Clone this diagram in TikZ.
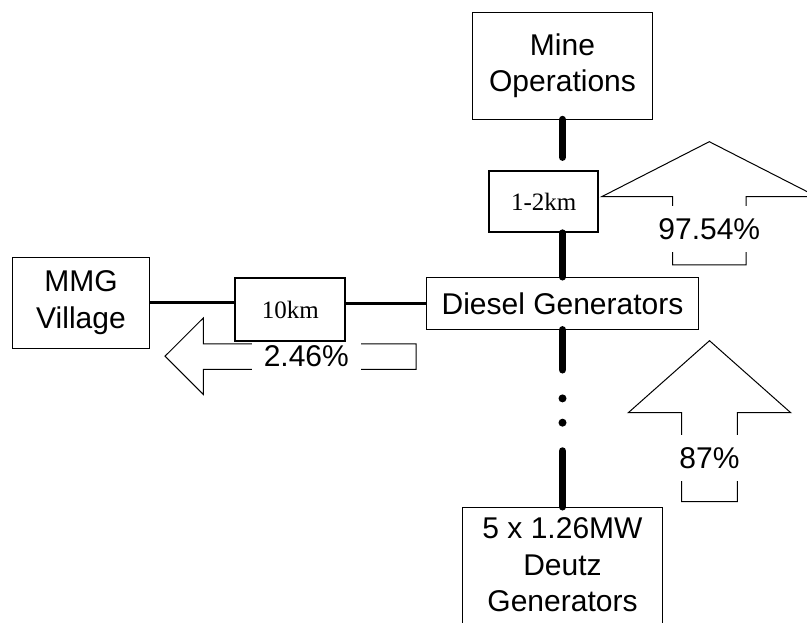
\documentclass[tikz,border=0pt]{standalone}
\usepackage{fontspec}
\setmainfont{Liberation Sans}
\newfontfamily\kmfont{Liberation Serif}
\tikzset{
  box/.style={draw=black, line width=0.75pt, align=center, inner sep=0pt,
    font=\fontsize{22.5}{27.5}\selectfont},
  kmbox/.style={draw=black, line width=1.5pt, inner sep=0pt,
    font=\kmfont\fontsize{18.75}{22}\selectfont},
  feeder/.style={line width=5.6pt, line cap=round},
  feederdot/.style={circle, fill=black, inner sep=0pt, minimum size=6pt},
  link/.style={line width=2pt},
  flow/.style={draw=black, line width=0.75pt, line join=miter},
  share/.style={fill=white, inner xsep=4pt, inner ysep=0pt, minimum height=34.3pt,
    font=\fontsize{22.5}{27}\selectfont},
}
\begin{document}
\begin{tikzpicture}[x=0.75pt, y=-0.75pt]
  \useasboundingbox (0,0) rectangle (807,623);
  \clip (0,0) rectangle (807,623);

  % energy share arrows
  \draw[flow] (672.7,265) -- (672.7,196.7) -- (601.7,196.7) -- (709.3,141.7)
    -- (817,196.7) -- (746,196.7) -- (746,265) -- cycle;
  \node[share] (pmine) at (709.3,228.9) {97.54\%};

  \draw[flow] (681.7,501.7) -- (681.7,412.7) -- (628.3,412.7) -- (709.5,340.7)
    -- (790.7,412.7) -- (737.3,412.7) -- (737.3,501.7) -- cycle;
  \node[share, inner xsep=6pt] (pgen) at (709.5,458.3) {87\%};

  \draw[flow] (416,344) -- (203.3,344) -- (203.3,318) -- (165,356.2)
    -- (203.3,394.4) -- (203.3,369.3) -- (416,369.3) -- cycle;
  \node[share, inner xsep=8.9pt, minimum height=28pt] (pvil) at (306.3,356.5) {2.46\%};

  % sites and cable runs
  \node[box, minimum width=134.7pt, minimum height=79.7pt] (mine) at (562.5,65.9) {Mine\\Operations};
  \node[kmbox, minimum width=81.75pt, minimum height=46pt] (km12) at (543.8,201.4) {1-2km};
  \node[box, minimum width=203.7pt, minimum height=39pt] (diesel) at (562.5,303.3) {Diesel Generators};
  \node[box, minimum width=102.2pt, minimum height=68.25pt] (mmg) at (81,302.8) {MMG\\Village};
  \node[kmbox, minimum width=82.5pt, minimum height=46.8pt] (km10) at (290.3,309.5) {10km};
  \node[box, minimum width=149.7pt, minimum height=93.6pt, text depth=7.5pt] (deutz) at (562.5,569.7)
    {5 x 1.26MW\\Deutz\\Generators};

  % connections
  \draw[feeder, shorten >=9.4pt] (mine.south) -- (mine.south |- km12.north);
  \draw[feeder] (km12.south -| diesel.north) -- (diesel.north);
  \draw[feeder, dash pattern=on 30pt off 60.9pt on 200pt] (diesel.south) -- (deutz.north)
    node[feederdot, pos=0.3876] (dota) {}
    node[feederdot, pos=0.5247] (dotb) {};
  \draw[link] (mmg.east) -- (mmg.east -| km10.west);
  \draw[link] (diesel.west -| km10.east) -- (diesel.west);
\end{tikzpicture}
\end{document}
